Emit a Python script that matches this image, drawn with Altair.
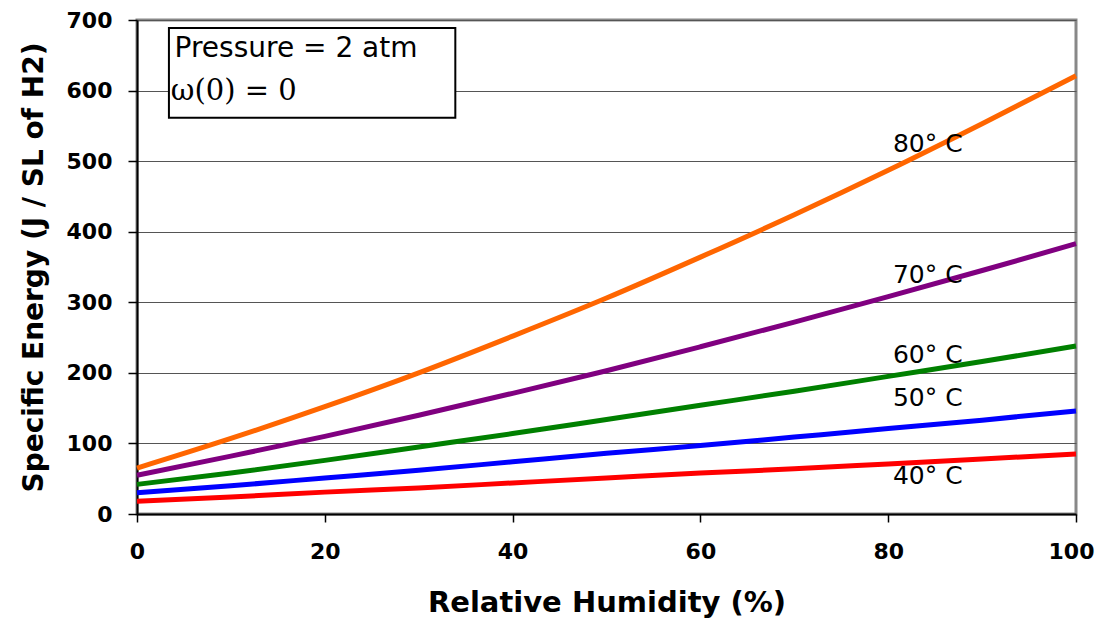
import altair as alt
import pandas as pd

# Relative humidity (%) sample points
rh = [0, 10, 20, 30, 40, 50, 60, 70, 80, 90, 100]

# Specific energy (J / SL of H2)
t40 = [18, 24, 31, 37, 44, 51, 58, 64, 71, 78, 85]
t50 = [30, 40, 51, 62, 74, 86, 97, 109, 121, 133, 146]
t60 = [42, 58, 76, 95, 114, 134, 154, 174, 195, 216, 238]
t70 = [55, 82, 110, 140, 171, 203, 237, 272, 308, 345, 383]
t80 = [65, 107, 152, 200, 252, 306, 364, 424, 487, 553, 621]

series_names = ["40° C", "50° C", "60° C", "70° C", "80° C"]
series_values = [t40, t50, t60, t70, t80]
series_colors = ["#FF0000", "#0000FF", "#008000", "#800080", "#FF6600"]

# Curve label anchors (data coordinates)
label_x = [80.5, 80.5, 80.5, 80.5, 80.5]
label_y = [54, 164, 225, 338, 525]

# Info box text
box_lines = ["Pressure = 2 atm", "ω(0) = 0"]

rows = []
for name, vals in zip(series_names, series_values):
    for xv, yv in zip(rh, vals):
        rows.append({"rh": xv, "energy": yv, "series": name})
df = pd.DataFrame(rows)

lab_df = pd.DataFrame({"x": label_x, "y": label_y, "text": series_names})

x_scale = alt.Scale(domain=[0, 100], nice=False, zero=False)
y_scale = alt.Scale(domain=[0, 700], nice=False)

x_axis = alt.Axis(
    values=[0, 20, 40, 60, 80, 100],
    title="Relative Humidity (%)",
    grid=False,
    tickSize=8,
    labelPadding=19,
    labelFlush=False,
    labelOffset={"expr": "datum.value == 100 ? -5 : 0"},
    titlePadding=26,
    titleFontSize=29,
)
y_axis = alt.Axis(
    values=[0, 100, 200, 300, 400, 500, 600, 700],
    title="Specific Energy (J / SL of H2)",
    grid=True,
    tickSize=9,
    labelPadding=16,
    labelFlush=False,
    titlePadding=18,
    titleFontSize=28,
)

base = alt.Chart(df)

lines = base.mark_line(strokeWidth=5, interpolate="monotone").encode(
    x=alt.X("rh:Q", scale=x_scale, axis=x_axis),
    y=alt.Y("energy:Q", scale=y_scale, axis=y_axis),
    color=alt.Color(
        "series:N",
        scale=alt.Scale(domain=series_names, range=series_colors),
        legend=None,
    ),
)

labels = alt.Chart(lab_df).mark_text(
    align="left", baseline="middle", font="DejaVu Sans", fontSize=25, color="black"
).encode(
    x=alt.X("x:Q", scale=x_scale),
    y=alt.Y("y:Q", scale=y_scale),
    text="text:N",
)

box_df = pd.DataFrame({"x1": [3.4], "x2": [33.9], "y1": [561.5], "y2": [688.7]})
box = alt.Chart(box_df).mark_rect(
    fill="white", stroke="black", strokeWidth=2
).encode(
    x=alt.X("x1:Q", scale=x_scale),
    x2="x2:Q",
    y=alt.Y("y1:Q", scale=y_scale),
    y2="y2:Q",
)

t1_df = pd.DataFrame({"x": [4.0], "y": [659], "text": [box_lines[0]]})
t1 = alt.Chart(t1_df).mark_text(
    align="left", baseline="middle", font="DejaVu Sans", fontSize=28, color="black"
).encode(x=alt.X("x:Q", scale=x_scale), y=alt.Y("y:Q", scale=y_scale), text="text:N")

t2_df = pd.DataFrame({"x": [3.6], "y": [600], "text": [box_lines[1]]})
t2 = alt.Chart(t2_df).mark_text(
    align="left", baseline="middle", font="DejaVu Serif", fontSize=29, color="black"
).encode(x=alt.X("x:Q", scale=x_scale), y=alt.Y("y:Q", scale=y_scale), text="text:N")

chart = (
    alt.layer(lines, labels, box, t1, t2)
    .properties(
        width=939,
        height=494,
        autosize=alt.AutoSizeParams(type="none"),
        padding={"left": 129, "top": 12, "right": 19, "bottom": 104},
        background="white",
    )
    .configure_view(stroke="#888888", strokeWidth=3)
    .configure_axis(
        domainColor="black",
        domainWidth=2,
        tickColor="black",
        tickWidth=1.5,
        gridColor="#555555",
        gridWidth=1.2,
        labelFont="DejaVu Sans",
        labelFontWeight="bold",
        labelFontSize=22,
        labelColor="black",
        titleFont="DejaVu Sans",
        titleFontWeight="bold",
        titleColor="black",
    )
)

chart.save("out.html", embed_options={"renderer": "svg", "actions": False})
